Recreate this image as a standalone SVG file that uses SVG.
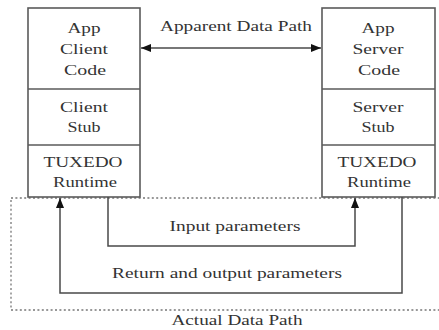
<svg xmlns="http://www.w3.org/2000/svg" width="439" height="330" viewBox="0 0 439 330">
<style>
.box{fill:#fff;stroke:#5a5a5a;stroke-width:1.6}
.div{stroke:#5a5a5a;stroke-width:1.6}
text{fill:#333;text-anchor:middle}
.c{fill:none;stroke:#4a4a4a;stroke-width:1.5}
.dot{fill:none;stroke:#777;stroke-width:1.3;stroke-dasharray:2 2.4}
</style>
<defs>
<marker id="ah" viewBox="0 0 10 8" refX="10" refY="4" markerWidth="10" markerHeight="8" markerUnits="userSpaceOnUse" orient="auto-start-reverse">
<path d="M0,0 L10,4 L0,8 Z" fill="#111"/>
</marker>
</defs>
<rect class="dot" x="11" y="198" width="440" height="112"/>
<g font-family="Liberation Serif, serif" font-size="15">
<g id="client">
<rect class="box" x="28" y="8" width="112" height="189"/>
<line class="div" x1="28" y1="89" x2="140" y2="89"/>
<line class="div" x1="28" y1="145" x2="140" y2="145"/>
<text x="84" y="33" textLength="33" lengthAdjust="spacingAndGlyphs">App</text>
<text x="84" y="54" textLength="48" lengthAdjust="spacingAndGlyphs">Client</text>
<text x="85" y="75" textLength="42" lengthAdjust="spacingAndGlyphs">Code</text>
<text x="84" y="112" textLength="48" lengthAdjust="spacingAndGlyphs">Client</text>
<text x="84" y="132" textLength="33" lengthAdjust="spacingAndGlyphs">Stub</text>
<text x="83" y="167" textLength="79" lengthAdjust="spacingAndGlyphs">TUXEDO</text>
<text x="85" y="187" textLength="64" lengthAdjust="spacingAndGlyphs">Runtime</text>
</g>
<g id="server">
<rect class="box" x="322" y="8" width="113" height="189"/>
<line class="div" x1="322" y1="89" x2="435" y2="89"/>
<line class="div" x1="322" y1="145" x2="435" y2="145"/>
<text x="378" y="33" textLength="33" lengthAdjust="spacingAndGlyphs">App</text>
<text x="378" y="54" textLength="51" lengthAdjust="spacingAndGlyphs">Server</text>
<text x="379" y="75" textLength="42" lengthAdjust="spacingAndGlyphs">Code</text>
<text x="378" y="112" textLength="51" lengthAdjust="spacingAndGlyphs">Server</text>
<text x="378" y="132" textLength="33" lengthAdjust="spacingAndGlyphs">Stub</text>
<text x="377" y="167" textLength="79" lengthAdjust="spacingAndGlyphs">TUXEDO</text>
<text x="379" y="187" textLength="64" lengthAdjust="spacingAndGlyphs">Runtime</text>
</g>
<g id="connectors">
<line class="c" x1="141" y1="48" x2="321" y2="48" marker-start="url(#ah)" marker-end="url(#ah)"/>
<polyline class="c" points="108,197 108,246 355,246 355,198" marker-end="url(#ah)"/>
<polyline class="c" points="402,197 402,293 60,293 60,198" marker-end="url(#ah)"/>
</g>
<g id="labels">
<text x="236" y="31" textLength="152" lengthAdjust="spacingAndGlyphs">Apparent Data Path</text>
<text x="235" y="231" textLength="131" lengthAdjust="spacingAndGlyphs">Input parameters</text>
<text x="227" y="278" textLength="230" lengthAdjust="spacingAndGlyphs">Return and output parameters</text>
<text x="237" y="325" textLength="131" lengthAdjust="spacingAndGlyphs">Actual Data Path</text>
</g>
</g>
</svg>
